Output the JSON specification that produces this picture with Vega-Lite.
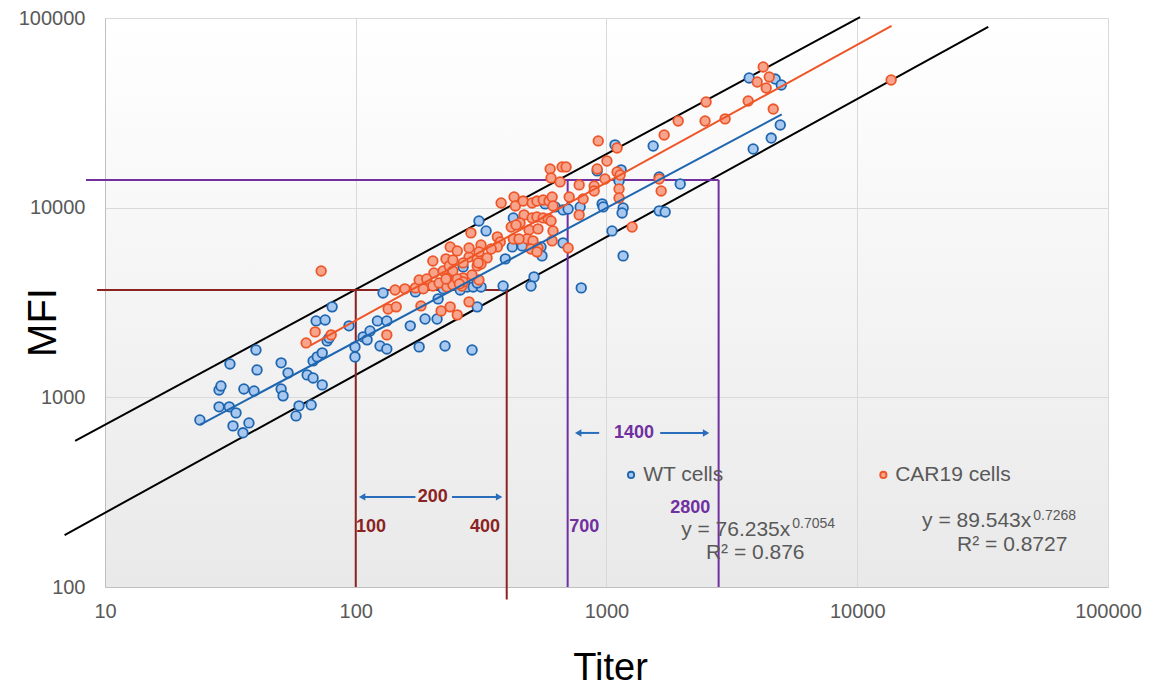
{
  "$schema": "https://vega.github.io/schema/vega-lite/v6.json",
  "width": 1003,
  "height": 569,
  "autosize": "none",
  "padding": {"left": 105, "top": 18, "right": 41, "bottom": 102},
  "background": "white",
  "config": {
    "font": "Liberation Sans",
    "axis": {"labelFontSize": 20, "labelColor": "#595959", "labelFont": "Liberation Sans"},
    "view": {"stroke": null, "fill": {"gradient": "linear", "x1": 0, "y1": 0, "x2": 0, "y2": 1, "stops": [{"offset": 0, "color": "#ffffff"}, {"offset": 1, "color": "#e9e9e9"}]}}
  },
  "datasets": {
    "points": [
      {"titer":23.9,"mfi":760,"cells":"WT"},{"titer":28.5,"mfi":891,"cells":"WT"},{"titer":31.3,"mfi":891,"cells":"WT"},{"titer":33.3,"mfi":828,"cells":"WT"},{"titer":32.4,"mfi":707,"cells":"WT"},{"titer":35.5,"mfi":650,"cells":"WT"},{"titer":37.5,"mfi":733,"cells":"WT"},{"titer":28.5,"mfi":1094,"cells":"WT"},{"titer":29.0,"mfi":1148,"cells":"WT"},{"titer":31.5,"mfi":1500,"cells":"WT"},{"titer":40.0,"mfi":1778,"cells":"WT"},{"titer":40.4,"mfi":1395,"cells":"WT"},{"titer":35.8,"mfi":1107,"cells":"WT"},{"titer":39.3,"mfi":1081,"cells":"WT"},{"titer":50.4,"mfi":1520,"cells":"WT"},{"titer":53.7,"mfi":1346,"cells":"WT"},{"titer":50.4,"mfi":1107,"cells":"WT"},{"titer":51.3,"mfi":1018,"cells":"WT"},{"titer":59.4,"mfi":902,"cells":"WT"},{"titer":66.4,"mfi":912,"cells":"WT"},{"titer":57.8,"mfi":798,"cells":"WT"},{"titer":64.0,"mfi":1313,"cells":"WT"},{"titer":67.6,"mfi":1265,"cells":"WT"},{"titer":73.5,"mfi":1163,"cells":"WT"},{"titer":67.6,"mfi":1556,"cells":"WT"},{"titer":70.2,"mfi":1634,"cells":"WT"},{"titer":73.5,"mfi":1715,"cells":"WT"},{"titer":69.5,"mfi":2529,"cells":"WT"},{"titer":75.5,"mfi":2559,"cells":"WT"},{"titer":80.5,"mfi":2999,"cells":"WT"},{"titer":76.9,"mfi":1984,"cells":"WT"},{"titer":78.3,"mfi":2056,"cells":"WT"},{"titer":94.0,"mfi":2382,"cells":"WT"},{"titer":99.3,"mfi":1845,"cells":"WT"},{"titer":99.3,"mfi":1634,"cells":"WT"},{"titer":107,"mfi":2083,"cells":"WT"},{"titer":111,"mfi":2009,"cells":"WT"},{"titer":114,"mfi":2239,"cells":"WT"},{"titer":122,"mfi":2529,"cells":"WT"},{"titer":128.5,"mfi":3550,"cells":"WT"},{"titer":133,"mfi":2529,"cells":"WT"},{"titer":165,"mfi":2382,"cells":"WT"},{"titer":189,"mfi":2588,"cells":"WT"},{"titer":211,"mfi":2588,"cells":"WT"},{"titer":125,"mfi":1866,"cells":"WT"},{"titer":133,"mfi":1799,"cells":"WT"},{"titer":173,"mfi":3597,"cells":"WT"},{"titer":179,"mfi":1845,"cells":"WT"},{"titer":227,"mfi":1866,"cells":"WT"},{"titer":291,"mfi":1778,"cells":"WT"},{"titer":310,"mfi":8511,"cells":"WT"},{"titer":331,"mfi":7540,"cells":"WT"},{"titer":268,"mfi":4871,"cells":"WT"},{"titer":261,"mfi":3683,"cells":"WT"},{"titer":278,"mfi":3819,"cells":"WT"},{"titer":294,"mfi":3819,"cells":"WT"},{"titer":316,"mfi":3819,"cells":"WT"},{"titer":387,"mfi":3864,"cells":"WT"},{"titer":305,"mfi":2999,"cells":"WT"},{"titer":223,"mfi":3733,"cells":"WT"},{"titer":213,"mfi":3304,"cells":"WT"},{"titer":425,"mfi":8831,"cells":"WT"},{"titer":569,"mfi":10470,"cells":"WT"},{"titer":624,"mfi":10090,"cells":"WT"},{"titer":671,"mfi":9730,"cells":"WT"},{"titer":703,"mfi":9840,"cells":"WT"},{"titer":785,"mfi":10090,"cells":"WT"},{"titer":421,"mfi":6209,"cells":"WT"},{"titer":461,"mfi":6285,"cells":"WT"},{"titer":548,"mfi":6209,"cells":"WT"},{"titer":553,"mfi":5568,"cells":"WT"},{"titer":671,"mfi":6520,"cells":"WT"},{"titer":395,"mfi":5370,"cells":"WT"},{"titer":514,"mfi":4315,"cells":"WT"},{"titer":500,"mfi":3864,"cells":"WT"},{"titer":793,"mfi":3776,"cells":"WT"},{"titer":1081,"mfi":21430,"cells":"WT"},{"titer":1535,"mfi":21140,"cells":"WT"},{"titer":918,"mfi":15630,"cells":"WT"},{"titer":1144,"mfi":15820,"cells":"WT"},{"titer":1122,"mfi":13840,"cells":"WT"},{"titer":1622,"mfi":14520,"cells":"WT"},{"titer":1968,"mfi":13330,"cells":"WT"},{"titer":961,"mfi":10470,"cells":"WT"},{"titer":970,"mfi":10090,"cells":"WT"},{"titer":1165,"mfi":9970,"cells":"WT"},{"titer":1154,"mfi":9380,"cells":"WT"},{"titer":1622,"mfi":9620,"cells":"WT"},{"titer":1714,"mfi":9490,"cells":"WT"},{"titer":1052,"mfi":7540,"cells":"WT"},{"titer":1165,"mfi":5568,"cells":"WT"},{"titer":3707,"mfi":48290,"cells":"WT"},{"titer":4707,"mfi":47660,"cells":"WT"},{"titer":4977,"mfi":44360,"cells":"WT"},{"titer":3846,"mfi":20390,"cells":"WT"},{"titer":4539,"mfi":23280,"cells":"WT"},{"titer":4932,"mfi":27290,"cells":"WT"},{"titer":305,"mfi":4010,"cells":"WT"},
      {"titer":72.8,"mfi":4637,"cells":"CAR19"},{"titer":68.9,"mfi":2213,"cells":"CAR19"},{"titer":63.4,"mfi":1936,"cells":"CAR19"},{"titer":79.8,"mfi":2134,"cells":"CAR19"},{"titer":133,"mfi":2134,"cells":"CAR19"},{"titer":134.6,"mfi":2924,"cells":"CAR19"},{"titer":145,"mfi":2999,"cells":"CAR19"},{"titer":143.5,"mfi":3683,"cells":"CAR19"},{"titer":157,"mfi":3733,"cells":"CAR19"},{"titer":173,"mfi":3776,"cells":"CAR19"},{"titer":179,"mfi":4159,"cells":"CAR19"},{"titer":186,"mfi":3733,"cells":"CAR19"},{"titer":203,"mfi":5236,"cells":"CAR19"},{"titer":205,"mfi":4529,"cells":"CAR19"},{"titer":223,"mfi":4637,"cells":"CAR19"},{"titer":192,"mfi":4207,"cells":"CAR19"},{"titer":203,"mfi":3864,"cells":"CAR19"},{"titer":215,"mfi":4010,"cells":"CAR19"},{"titer":231,"mfi":3819,"cells":"CAR19"},{"titer":244,"mfi":3917,"cells":"CAR19"},{"titer":265,"mfi":3864,"cells":"CAR19"},{"titer":229,"mfi":5370,"cells":"CAR19"},{"titer":238,"mfi":6209,"cells":"CAR19"},{"titer":254,"mfi":5916,"cells":"CAR19"},{"titer":236,"mfi":4932,"cells":"CAR19"},{"titer":244,"mfi":4637,"cells":"CAR19"},{"titer":231,"mfi":4264,"cells":"CAR19"},{"titer":182,"mfi":3034,"cells":"CAR19"},{"titer":219,"mfi":2856,"cells":"CAR19"},{"titer":238,"mfi":2999,"cells":"CAR19"},{"titer":254,"mfi":2722,"cells":"CAR19"},{"titer":283,"mfi":3187,"cells":"CAR19"},{"titer":310,"mfi":4159,"cells":"CAR19"},{"titer":268,"mfi":4264,"cells":"CAR19"},{"titer":291,"mfi":4420,"cells":"CAR19"},{"titer":283,"mfi":5495,"cells":"CAR19"},{"titer":305,"mfi":5370,"cells":"CAR19"},{"titer":316,"mfi":6357,"cells":"CAR19"},{"titer":334,"mfi":5433,"cells":"CAR19"},{"titer":310,"mfi":5845,"cells":"CAR19"},{"titer":288,"mfi":7362,"cells":"CAR19"},{"titer":367,"mfi":7015,"cells":"CAR19"},{"titer":377,"mfi":6598,"cells":"CAR19"},{"titer":367,"mfi":6209,"cells":"CAR19"},{"titer":347,"mfi":6055,"cells":"CAR19"},{"titer":380,"mfi":10590,"cells":"CAR19"},{"titer":244,"mfi":5297,"cells":"CAR19"},{"titer":268,"mfi":5113,"cells":"CAR19"},{"titer":305,"mfi":4932,"cells":"CAR19"},{"titer":229,"mfi":4207,"cells":"CAR19"},{"titer":254,"mfi":4207,"cells":"CAR19"},{"titer":268,"mfi":4057,"cells":"CAR19"},{"titer":259,"mfi":3963,"cells":"CAR19"},{"titer":596,"mfi":16000,"cells":"CAR19"},{"titer":665,"mfi":16400,"cells":"CAR19"},{"titer":690,"mfi":16400,"cells":"CAR19"},{"titer":601,"mfi":14350,"cells":"CAR19"},{"titer":653,"mfi":13670,"cells":"CAR19"},{"titer":428,"mfi":11380,"cells":"CAR19"},{"titer":433,"mfi":10210,"cells":"CAR19"},{"titer":465,"mfi":10840,"cells":"CAR19"},{"titer":505,"mfi":10590,"cells":"CAR19"},{"titer":528,"mfi":10840,"cells":"CAR19"},{"titer":559,"mfi":10980,"cells":"CAR19"},{"titer":590,"mfi":10840,"cells":"CAR19"},{"titer":607,"mfi":11380,"cells":"CAR19"},{"titer":612,"mfi":10210,"cells":"CAR19"},{"titer":710,"mfi":11380,"cells":"CAR19"},{"titer":807,"mfi":11120,"cells":"CAR19"},{"titer":469,"mfi":9160,"cells":"CAR19"},{"titer":505,"mfi":8831,"cells":"CAR19"},{"titer":528,"mfi":8930,"cells":"CAR19"},{"titer":559,"mfi":8831,"cells":"CAR19"},{"titer":585,"mfi":8730,"cells":"CAR19"},{"titer":601,"mfi":8511,"cells":"CAR19"},{"titer":452,"mfi":8300,"cells":"CAR19"},{"titer":417,"mfi":7910,"cells":"CAR19"},{"titer":436,"mfi":8110,"cells":"CAR19"},{"titer":491,"mfi":7630,"cells":"CAR19"},{"titer":533,"mfi":7730,"cells":"CAR19"},{"titer":482,"mfi":6840,"cells":"CAR19"},{"titer":509,"mfi":6680,"cells":"CAR19"},{"titer":425,"mfi":6840,"cells":"CAR19"},{"titer":448,"mfi":6840,"cells":"CAR19"},{"titer":607,"mfi":6680,"cells":"CAR19"},{"titer":612,"mfi":7540,"cells":"CAR19"},{"titer":500,"mfi":6055,"cells":"CAR19"},{"titer":533,"mfi":6130,"cells":"CAR19"},{"titer":528,"mfi":5845,"cells":"CAR19"},{"titer":316,"mfi":5050,"cells":"CAR19"},{"titer":703,"mfi":6130,"cells":"CAR19"},{"titer":778,"mfi":13180,"cells":"CAR19"},{"titer":927,"mfi":22490,"cells":"CAR19"},{"titer":1698,"mfi":24170,"cells":"CAR19"},{"titer":893,"mfi":13010,"cells":"CAR19"},{"titer":893,"mfi":12250,"cells":"CAR19"},{"titer":986,"mfi":14170,"cells":"CAR19"},{"titer":1004,"mfi":17620,"cells":"CAR19"},{"titer":1102,"mfi":15420,"cells":"CAR19"},{"titer":1133,"mfi":14870,"cells":"CAR19"},{"titer":1122,"mfi":12550,"cells":"CAR19"},{"titer":1122,"mfi":11250,"cells":"CAR19"},{"titer":918,"mfi":16000,"cells":"CAR19"},{"titer":1652,"mfi":12250,"cells":"CAR19"},{"titer":1265,"mfi":7910,"cells":"CAR19"},{"titer":778,"mfi":9160,"cells":"CAR19"},{"titer":1102,"mfi":20650,"cells":"CAR19"},{"titer":1622,"mfi":14170,"cells":"CAR19"},{"titer":4217,"mfi":55190,"cells":"CAR19"},{"titer":4457,"mfi":48870,"cells":"CAR19"},{"titer":3990,"mfi":45990,"cells":"CAR19"},{"titer":4335,"mfi":42760,"cells":"CAR19"},{"titer":3673,"mfi":36530,"cells":"CAR19"},{"titer":4624,"mfi":33110,"cells":"CAR19"},{"titer":2495,"mfi":36080,"cells":"CAR19"},{"titer":1932,"mfi":28640,"cells":"CAR19"},{"titer":2472,"mfi":28640,"cells":"CAR19"},{"titer":2972,"mfi":29380,"cells":"CAR19"},{"titer":13650,"mfi":47100,"cells":"CAR19"},{"titer":308,"mfi":5113,"cells":"CAR19"},{"titer":283,"mfi":6130,"cells":"CAR19"}
    ],
    "segments": [
      {"kind":"black","titer":7.6,"mfi":589,"titer2":10260,"mfi2":101000},
      {"kind":"black","titer":6.9,"mfi":188,"titer2":33300,"mfi2":89700},
      {"kind":"red","titer":9.3,"mfi":3680,"titer2":405,"mfi2":3680},
      {"kind":"red","titer":100,"mfi":3680,"titer2":100,"mfi2":100},
      {"kind":"red","titer":400,"mfi":3680,"titer2":400,"mfi2":86},
      {"kind":"purple","titer":8.4,"mfi":14000,"titer2":2800,"mfi2":14000},
      {"kind":"purple","titer":700,"mfi":14000,"titer2":700,"mfi2":100},
      {"kind":"purple","titer":2800,"mfi":14000,"titer2":2800,"mfi2":100},
      {"kind":"WT","titer":24,"mfi":718,"titer2":5000,"mfi2":31010},
      {"kind":"CAR19","titer":66,"mfi":1881,"titer2":13700,"mfi2":90930},
      {"kind":"arrow","titer":106,"mfi":298.6,"titer2":173,"mfi2":298.6},
      {"kind":"arrow","titer":242,"mfi":298.6,"titer2":373,"mfi2":298.6},
      {"kind":"arrow","titer":771,"mfi":649,"titer2":935,"mfi2":649},
      {"kind":"arrow","titer":1637,"mfi":649,"titer2":2495,"mfi2":649}
    ],
    "heads": [
      {"titer":106,"mfi":298.6,"dir":"left"},
      {"titer":373,"mfi":298.6,"dir":"right"},
      {"titer":771,"mfi":649,"dir":"left"},
      {"titer":2495,"mfi":649,"dir":"right"}
    ],
    "legend": [
      {"titer":1253,"mfi":390,"cells":"WT"},
      {"titer":12710,"mfi":390,"cells":"CAR19"}
    ],
    "notes": [
      {"titer":5408,"mfi":200,"text":"y = 76.235x","role":"eq"},
      {"titer":49430,"mfi":223.2,"text":"y = 89.543x","role":"eq"},
      {"titer":5508,"mfi":215,"text":"0.7054","role":"sup"},
      {"titer":50370,"mfi":237,"text":"0.7268","role":"sup"},
      {"titer":3918,"mfi":152,"text":"R² = 0.876","role":"r2"},
      {"titer":41500,"mfi":166.8,"text":"R² = 0.8727","role":"r2"},
      {"titer":1400,"mfi":390,"text":"WT cells","role":"legend"},
      {"titer":14160,"mfi":390,"text":"CAR19 cells","role":"legend"},
      {"titer":115,"mfi":207.5,"text":"100","role":"red"},
      {"titer":203,"mfi":298.6,"text":"200","role":"red"},
      {"titer":328,"mfi":207.5,"text":"400","role":"red"},
      {"titer":815,"mfi":207.5,"text":"700","role":"purple"},
      {"titer":1288,"mfi":649,"text":"1400","role":"purple"},
      {"titer":2158,"mfi":262,"text":"2800","role":"purple"}
    ]
  },
  "encoding": {
    "x": {
      "field": "titer", "type": "quantitative",
      "scale": {"type": "log", "domain": [10, 100000], "nice": false},
      "axis": {
        "title": "Titer", "values": [10, 100, 1000, 10000, 100000], "format": "d",
        "grid": true, "gridColor": "#d9d9d9", "gridWidth": 1,
        "domainColor": "#bfbfbf", "ticks": false, "tickSize": 0,
        "labelFontSize": 20, "labelColor": "#595959", "labelPadding": 14,
        "labelFlush": false, "labelOverlap": false,
        "titleFontSize": 38, "titleFontWeight": "normal", "titleColor": "#000000",
        "titleBaseline": "middle", "titleY": 81, "titleX": 505
      }
    },
    "y": {
      "field": "mfi", "type": "quantitative",
      "scale": {"type": "log", "domain": [100, 100000], "nice": false},
      "axis": {
        "title": "MFI", "values": [100, 1000, 10000, 100000], "format": "d",
        "grid": true, "gridColor": "#d9d9d9", "gridWidth": 1,
        "domainColor": "#bfbfbf", "ticks": false, "tickSize": 0,
        "labelFontSize": 20, "labelColor": "#595959", "labelPadding": 20,
        "labelFlush": false, "labelOverlap": false,
        "titleFontSize": 40, "titleFontWeight": "normal", "titleColor": "#000000",
        "titleAngle": -90, "titleAlign": "center", "titleBaseline": "middle",
        "titleX": -62, "titleY": 304
      }
    }
  },
  "layer": [
    {
      "data": {"name": "segments"},
      "transform": [{"filter": {"field": "kind", "oneOf": ["black", "red", "purple"]}}],
      "mark": {"type": "rule", "strokeWidth": 2},
      "encoding": {
        "x2": {"field": "titer2"},
        "y2": {"field": "mfi2"},
        "stroke": {"field": "kind", "type": "nominal", "legend": null,
          "scale": {"domain": ["WT", "CAR19", "black", "red", "purple", "arrow"], "range": ["#1f66b0", "#ee5628", "#000000", "#8b2323", "#7030a0", "#2a6ebb"]}}
      }
    },
    {
      "data": {"name": "points"},
      "mark": {"type": "circle", "size": 92, "strokeWidth": 1.8, "opacity": 1, "fillOpacity": 1},
      "encoding": {
        "fill": {"field": "cells", "type": "nominal", "legend": null,
          "scale": {"domain": ["WT", "CAR19"], "range": ["#a9c8f0", "#f8a48d"]}},
        "stroke": {"field": "cells", "type": "nominal", "legend": null,
          "scale": {"domain": ["WT", "CAR19", "black", "red", "purple", "arrow"], "range": ["#1f66b0", "#ee5628", "#000000", "#8b2323", "#7030a0", "#2a6ebb"]}}
      }
    },
    {
      "data": {"name": "segments"},
      "transform": [{"filter": {"field": "kind", "oneOf": ["WT", "CAR19", "arrow"]}}],
      "mark": {"type": "rule", "strokeWidth": 2},
      "encoding": {
        "x2": {"field": "titer2"},
        "y2": {"field": "mfi2"},
        "stroke": {"field": "kind", "type": "nominal", "legend": null,
          "scale": {"domain": ["WT", "CAR19", "black", "red", "purple", "arrow"], "range": ["#1f66b0", "#ee5628", "#000000", "#8b2323", "#7030a0", "#2a6ebb"]}}
      }
    },
    {
      "data": {"name": "heads"},
      "mark": {"type": "point", "filled": true, "color": "#2a6ebb", "size": 55, "opacity": 1},
      "encoding": {
        "shape": {"field": "dir", "type": "nominal", "legend": null,
          "scale": {"domain": ["left", "right"], "range": ["triangle-left", "triangle-right"]}}
      }
    },
    {
      "data": {"name": "legend"},
      "mark": {"type": "circle", "size": 40, "strokeWidth": 1.8, "opacity": 1, "fillOpacity": 1},
      "encoding": {
        "fill": {"field": "cells", "type": "nominal", "legend": null,
          "scale": {"domain": ["WT", "CAR19"], "range": ["#a9c8f0", "#f8a48d"]}},
        "stroke": {"field": "cells", "type": "nominal", "legend": null,
          "scale": {"domain": ["WT", "CAR19", "black", "red", "purple", "arrow"], "range": ["#1f66b0", "#ee5628", "#000000", "#8b2323", "#7030a0", "#2a6ebb"]}}
      }
    },
    {
      "data": {"name": "notes"},
      "transform": [{"filter": "datum.role === 'eq'"}],
      "mark": {"type": "text", "align": "right", "baseline": "middle", "fontSize": 21, "color": "#595959"},
      "encoding": {"text": {"field": "text"}}
    },
    {
      "data": {"name": "notes"},
      "transform": [{"filter": "datum.role === 'sup'"}],
      "mark": {"type": "text", "align": "left", "baseline": "middle", "fontSize": 14, "color": "#595959"},
      "encoding": {"text": {"field": "text"}}
    },
    {
      "data": {"name": "notes"},
      "transform": [{"filter": "datum.role === 'r2'"}],
      "mark": {"type": "text", "align": "center", "baseline": "middle", "fontSize": 21, "color": "#595959"},
      "encoding": {"text": {"field": "text"}}
    },
    {
      "data": {"name": "notes"},
      "transform": [{"filter": "datum.role === 'legend'"}],
      "mark": {"type": "text", "align": "left", "baseline": "middle", "fontSize": 21, "color": "#595959"},
      "encoding": {"text": {"field": "text"}}
    },
    {
      "data": {"name": "notes"},
      "transform": [{"filter": "datum.role === 'red'"}],
      "mark": {"type": "text", "align": "center", "baseline": "middle", "fontSize": 18, "fontWeight": "bold", "color": "#8b2323"},
      "encoding": {"text": {"field": "text"}}
    },
    {
      "data": {"name": "notes"},
      "transform": [{"filter": "datum.role === 'purple'"}],
      "mark": {"type": "text", "align": "center", "baseline": "middle", "fontSize": 18, "fontWeight": "bold", "color": "#7030a0"},
      "encoding": {"text": {"field": "text"}}
    }
  ]
}
